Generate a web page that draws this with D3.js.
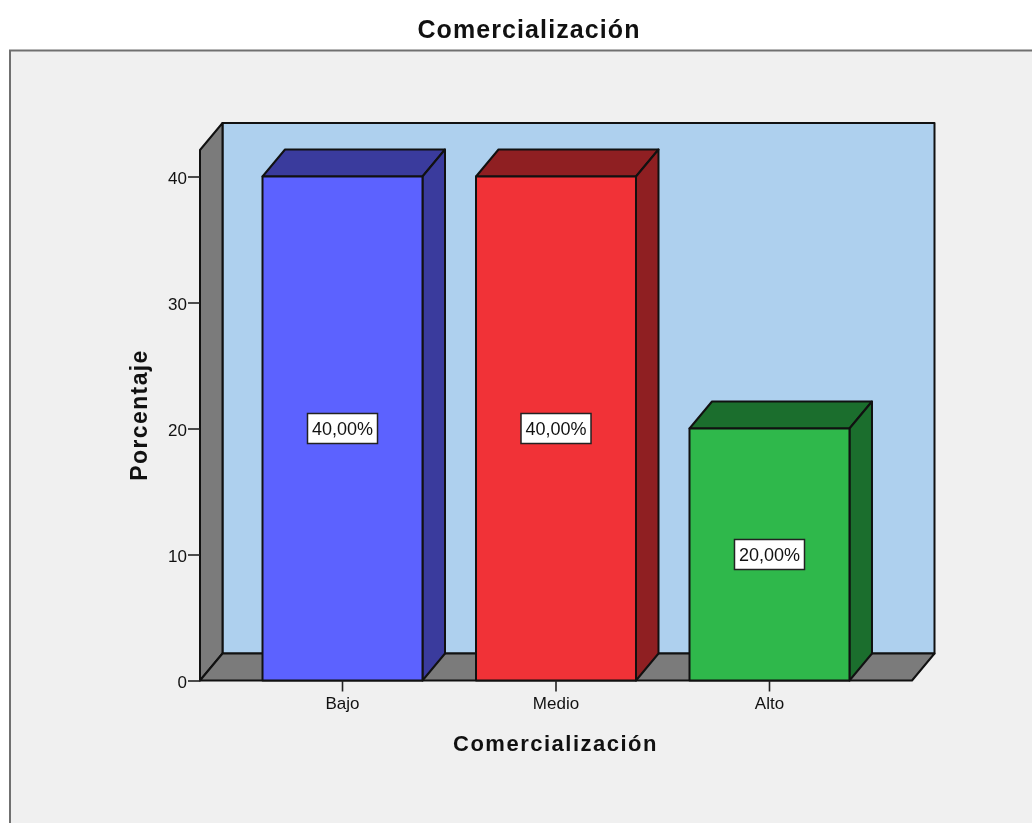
<!DOCTYPE html>
<html lang="en">
	<head>
		<meta charset="utf-8">
		<title>Comercialización</title>
		<script src="https://d3js.org/d3.v7.min.js"></script>
		<style type="text/css">
			html, body { margin: 0; padding: 0; background: #fff; overflow: hidden; }
			svg { display: block; filter: blur(0.45px); }
			text { font-family: "Liberation Sans", Arial, sans-serif; fill: #111; }
			.tick text { font-size: 17px; }
			.cat .tick text { font-size: 17px; }
		</style>
	</head>
	<body>
		<script type="text/javascript">

			//Data
			var categories = ["Bajo", "Medio", "Alto"];
			var percentages = [40, 40, 20];
			var valueLabels = ["40,00%", "40,00%", "20,00%"];
			var yTicks = [0, 10, 20, 30, 40];
			var frontColors = ["#5c62ff", "#f13237", "#2fb84b"];
			var sideColors = ["#3a3b9d", "#8f1f22", "#1b6e2d"];

			//Width and height
			var w = 1032;
			var h = 823;
			var dx = 22.5;   // 3d depth
			var dy = -27;
			var stroke = "#111";

			var x = d3.scaleBand()
				.domain(categories)
				.range([200, 912])
				.paddingInner(0.2506)
				.paddingOuter(0.2928);

			var y = d3.scaleLinear()
				.domain([0, 40])
				.range([680.5, 176.5]);

			var yTop = 150;
			var yBase = y(0);

			var svg = d3.select("body")
				.append("svg")
				.attr("width", w)
				.attr("height", h);

			//Background, the blur would soften the white edge otherwise
			svg.append("rect")
				.attr("width", w)
				.attr("height", h)
				.attr("fill", "#fff");

			//Outer frame
			svg.append("rect")
				.attr("x", 10)
				.attr("y", 50.5)
				.attr("width", w + 20)
				.attr("height", h + 20)
				.attr("fill", "#f0f0f0")
				.attr("stroke", "#707070")
				.attr("stroke-width", 2);

			function poly(points, fill) {
				return svg.append("polygon")
					.attr("points", points.map(function(p) { return p.join(","); }).join(" "))
					.attr("fill", fill)
					.attr("stroke", stroke)
					.attr("stroke-width", 2)
					.attr("stroke-linejoin", "round");
			}

			//Back wall, side wall, floor
			poly([[200 + dx, yTop + dy], [912 + dx, yTop + dy], [912 + dx, yBase + dy], [200 + dx, yBase + dy]], "#aed0ee");
			poly([[200, yTop], [200 + dx, yTop + dy], [200 + dx, yBase + dy], [200, yBase]], "#7b7b7b");
			poly([[200, yBase], [200 + dx, yBase + dy], [912 + dx, yBase + dy], [912, yBase]], "#7b7b7b");

			//Bars
			categories.forEach(function(c, i) {
				var x0 = x(c);
				var x1 = x0 + x.bandwidth();
				var yv = y(percentages[i]);
				poly([[x0, yv], [x0 + dx, yv + dy], [x1 + dx, yv + dy], [x1, yv]], sideColors[i]);
				poly([[x1, yv], [x1 + dx, yv + dy], [x1 + dx, yBase + dy], [x1, yBase]], sideColors[i]);
				poly([[x0, yv], [x1, yv], [x1, yBase], [x0, yBase]], frontColors[i]);
			});

			//Axes
			var yAxis = d3.axisLeft(y)
				.tickValues(yTicks)
				.tickSize(12)
				.tickPadding(1);
			var gy = svg.append("g")
				.attr("transform", "translate(200,0)")
				.call(yAxis);
			gy.select(".domain").remove();
			gy.selectAll(".tick line").attr("stroke", "#222").attr("stroke-width", 1.6);
			gy.selectAll(".tick text").attr("dy", "0.42em");

			var xAxis = d3.axisBottom(x)
				.tickSize(11)
				.tickPadding(5);
			var gx = svg.append("g")
				.attr("class", "cat")
				.attr("transform", "translate(0," + yBase + ")")
				.call(xAxis);
			gx.select(".domain").remove();
			gx.selectAll(".tick line").attr("stroke", "#222").attr("stroke-width", 1.6);

			//Value labels
			var labels = svg.selectAll("g.lab")
				.data(categories)
				.enter()
				.append("g")
				.attr("class", "lab")
				.attr("transform", function(d, i) {
					return "translate(" + (x(d) + x.bandwidth() / 2) + "," + y(percentages[i] / 2) + ")";
				});
			labels.append("rect")
				.attr("x", -35)
				.attr("y", -15)
				.attr("width", 70)
				.attr("height", 30)
				.attr("fill", "#fff")
				.attr("stroke", "#222")
				.attr("stroke-width", 1.5);
			labels.append("text")
				.text(function(d, i) { return valueLabels[i]; })
				.attr("text-anchor", "middle")
				.attr("y", 6)
				.attr("font-size", "18px");

			//Titles
			svg.append("text")
				.text("Comercialización")
				.attr("x", 529)
				.attr("y", 38)
				.attr("text-anchor", "middle")
				.attr("font-weight", "bold")
				.attr("letter-spacing", "1.1px")
				.attr("font-size", "25px");

			svg.append("text")
				.text("Comercialización")
				.attr("x", 555.5)
				.attr("y", 751)
				.attr("text-anchor", "middle")
				.attr("font-weight", "bold")
				.attr("letter-spacing", "1.5px")
				.attr("font-size", "22px");

			svg.append("text")
				.text("Porcentaje")
				.attr("transform", "translate(147,415) rotate(-90)")
				.attr("text-anchor", "middle")
				.attr("font-weight", "bold")
				.attr("letter-spacing", "1.4px")
				.attr("font-size", "23px");

		</script>
	</body>
</html>
